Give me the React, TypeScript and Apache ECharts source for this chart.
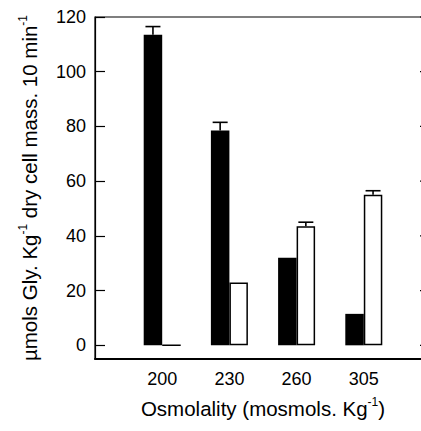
import React, { useEffect, useRef } from "react";
import * as echarts from "echarts";

const categories = ["", "200", "230", "260", "305", ""];
const blackValues = [null, 113.5, 78.5, 32, 11.5, null];
const whiteValues = [null, 0, 23, 43.5, 55, null];
const blackErrTop = [null, 116.5, 81.5, null, null, null];
const whiteErrTop = [null, null, null, 45, 56.5, null];
const yTicks = [0, 20, 40, 60, 80, 100, 120];

const FONT = "Liberation Sans, Arial, sans-serif";
const BAR_W = 18.5;

export default function App() {
  const ref = useRef<HTMLDivElement>(null);
  useEffect(() => {
    if (!ref.current) return;
    const chart = echarts.init(ref.current, undefined, { renderer: "svg" });

    const errData = (vals: (number | null)[], tops: (number | null)[]) =>
      tops
        .map((t, i) => (t == null ? null : [i, vals[i] as number, t]))
        .filter((d) => d != null);

    const errSeries = (data: any[], offset: number) => ({
      type: "custom",
      xAxisIndex: 0,
      yAxisIndex: 0,
      silent: true,
      data,
      encode: { x: 0, y: [1, 2] },
      renderItem: (params: any, api: any) => {
        const x = api.value(0);
        const p1 = api.coord([x, api.value(1)]);
        const p2 = api.coord([x, api.value(2)]);
        const cx = p1[0] + offset;
        return {
          type: "group",
          children: [
            {
              type: "line",
              shape: { x1: cx, y1: p1[1], x2: cx, y2: p2[1] },
              style: { stroke: "#000", lineWidth: 1.6 },
            },
            {
              type: "line",
              shape: { x1: cx - 7.5, y1: p2[1], x2: cx + 7.5, y2: p2[1] },
              style: { stroke: "#000", lineWidth: 1.6 },
            },
          ],
        };
      },
    });

    const lastCat = categories.length - 1;
    const rightTickSeries = {
      type: "custom",
      silent: true,
      data: yTicks.map((v) => [lastCat, v]),
      encode: { x: 0, y: 1 },
      renderItem: (params: any, api: any) => {
        const p = api.coord([api.value(0), api.value(1)]);
        return {
          type: "line",
          shape: { x1: p[0] - 11, y1: p[1], x2: p[0], y2: p[1] },
          style: { stroke: "#000", lineWidth: 1.2 },
        };
      },
    };

    const titleRich = {
      n: { fontFamily: FONT, fontSize: 20.5, color: "#000", lineHeight: 24 },
      s: { fontFamily: FONT, fontSize: 12, color: "#000", verticalAlign: "top", lineHeight: 24 },
    };

    chart.setOption({
      animation: false,
      grid: {
        left: 95,
        right: 10,
        top: 17,
        bottom: 72,
        containLabel: false,
        show: true,
        borderColor: "#000",
        borderWidth: 1.2,
        backgroundColor: "transparent",
      },
      xAxis: {
        type: "category",
        data: categories,
        boundaryGap: false,
        axisLine: { onZero: false, lineStyle: { color: "#000", width: 2 } },
        axisTick: { show: false },
        axisLabel: {
          color: "#000",
          fontFamily: FONT,
          fontSize: 18,
          margin: 11,
          interval: 0,
        },
        name: "{n|Osmolality (mosmols. Kg}{s|-1}{n|)}",
        nameLocation: "middle",
        nameGap: 37,
        nameTextStyle: { rich: titleRich },
      },
      yAxis: {
        type: "value",
        min: -5,
        max: 120,
        splitLine: { show: false },
        axisLine: { show: true, onZero: false, lineStyle: { color: "#000", width: 1.2 } },
        axisTick: {
          show: true,
          inside: true,
          length: 10,
          customValues: yTicks,
          lineStyle: { color: "#000", width: 1.2 },
        },
        axisLabel: {
          color: "#000",
          fontFamily: FONT,
          fontSize: 18,
          margin: 9,
          customValues: yTicks,
        },
        name: "{n|µmols Gly. Kg}{s|-1}{n| dry cell mass. 10 min}{s|-1}",
        nameLocation: "middle",
        nameRotate: 90,
        nameGap: 54,
        nameTextStyle: { rich: titleRich },
      },
      series: [
        {
          type: "bar",
          data: blackValues,
          barWidth: BAR_W,
          barGap: "0%",
          itemStyle: { color: "#000" },
        },
        {
          type: "bar",
          data: whiteValues,
          barWidth: BAR_W,
          barGap: "0%",
          itemStyle: { color: "#fff", borderColor: "#000", borderWidth: 1.5 },
        },
        errSeries(errData(blackValues, blackErrTop), -BAR_W / 2),
        errSeries(errData(whiteValues, whiteErrTop), BAR_W / 2),
        rightTickSeries,
      ],
    });
    return () => chart.dispose();
  }, []);

  return (
    <div style={{ position: "absolute", left: 0, top: 0, width: 421, height: 431, overflow: "hidden" }}>
      <div ref={ref} style={{ width: 441, height: 431 }} />
    </div>
  );
}
